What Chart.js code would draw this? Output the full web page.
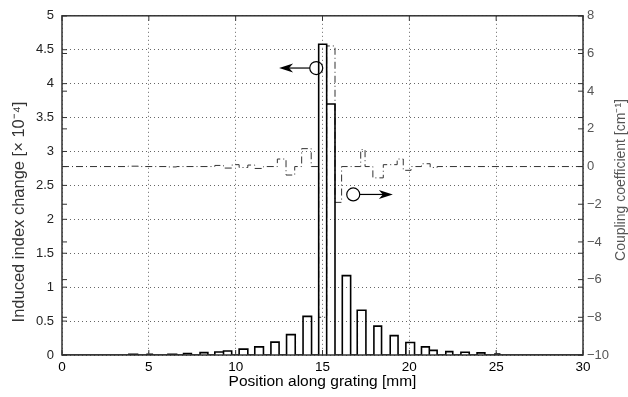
<!DOCTYPE html>
<html>
<head>
<meta charset="utf-8">
<script src="https://cdn.jsdelivr.net/npm/chart.js@4.4.0/dist/chart.umd.min.js"></script>
<style>
  html, body { margin: 0; padding: 0; background: #fff; }
</style>
</head>
<body>
<canvas id="grating" width="628" height="397"></canvas>
<script>
// grating sections: start / end position [mm] and induced index change [x 1e-4]
var barStart  = [3.85, 4.9, 6.1, 7.0, 7.95, 8.8, 9.3, 10.2, 11.1, 12.03, 12.93, 13.88, 14.78, 15.24, 16.14, 17.0, 17.96, 18.9, 19.8, 20.7, 21.15, 22.1, 22.97, 23.9, 24.93];
var barEnd    = [4.35, 5.2, 6.6, 7.45, 8.4, 9.3, 9.77, 10.7, 11.6, 12.5, 13.43, 14.37, 15.24, 15.72, 16.62, 17.5, 18.4, 19.35, 20.3, 21.15, 21.6, 22.5, 23.45, 24.35, 25.2];
var barHeight = [0.012, 0.01, 0.01, 0.02, 0.035, 0.045, 0.06, 0.087, 0.12, 0.19, 0.30, 0.57, 4.58, 3.7, 1.17, 0.66, 0.425, 0.285, 0.185, 0.12, 0.068, 0.05, 0.04, 0.032, 0.015];

// coupling coefficient [1/cm], piecewise constant from each start position
var couplingStart = [0, 3.8, 4.4, 6.1, 6.6, 8.8, 9.3, 9.8, 10.2, 10.7, 11.1, 11.6, 12.4, 12.9, 13.4, 13.8, 14.35, 14.78, 15.24, 15.72, 16.1, 17.2, 17.45, 17.9, 18.5, 19.3, 19.65, 20.1, 20.7, 21.2, 21.6];
var couplingValue = [0, 0.02, 0, -0.02, 0, 0.06, -0.08, 0.1, -0.05, 0.08, -0.1, 0, 0.4, -0.45, 0, 0.95, 0, -8.0, 6.4, -1.9, 0, 0.9, 0, -0.6, 0.1, 0.4, -0.2, 0, 0.15, -0.05, 0];

var xTicks = [0, 5, 10, 15, 20, 25, 30];
var indexTicks = [0, 0.5, 1, 1.5, 2, 2.5, 3, 3.5, 4, 4.5, 5];
var couplingTicks = [-10, -8, -6, -4, -2, 0, 2, 4, 6, 8];

var FONT = '"Liberation Sans", Arial, Helvetica, sans-serif';

// outline of the bars as one polyline
var outline = [{x: 0, y: 0}];
for (var i = 0; i < barStart.length; i++) {
	outline.push({x: barStart[i], y: 0});
	outline.push({x: barStart[i], y: barHeight[i]});
	outline.push({x: barEnd[i], y: barHeight[i]});
	outline.push({x: barEnd[i], y: 0});
}
outline.push({x: 30, y: 0});

var coupling = [];
for (var j = 0; j < couplingStart.length; j++) {
	coupling.push({x: couplingStart[j], y: couplingValue[j]});
}
coupling.push({x: 30, y: couplingValue[couplingValue.length - 1]});

function setTicks(values) {
	return function(scale) {
		scale.ticks = values.map(function(v) { return {value: v}; });
	};
}

// circle + arrow showing which axis a curve belongs to
function drawMarker(ctx, cx, cy, tipX) {
	var r = 6.5;
	var dir = tipX < cx ? -1 : 1;
	ctx.save();
	ctx.strokeStyle = '#000';
	ctx.fillStyle = '#000';
	ctx.lineWidth = 1.2;
	ctx.beginPath();
	ctx.arc(cx, cy, r, 0, Math.PI * 2);
	ctx.stroke();
	ctx.beginPath();
	ctx.moveTo(cx + dir * r, cy);
	ctx.lineTo(tipX - dir * 8, cy);
	ctx.stroke();
	ctx.beginPath();
	ctx.moveTo(tipX, cy);
	ctx.lineTo(tipX - dir * 14, cy - 4.5);
	ctx.lineTo(tipX - dir * 10, cy);
	ctx.lineTo(tipX - dir * 14, cy + 4.5);
	ctx.closePath();
	ctx.fill();
	ctx.restore();
}

var markers = {
	id: 'markers',
	afterDatasetsDraw: function(chart) {
		var sx = chart.scales.x, sy = chart.scales.y, sy2 = chart.scales.y2;
		drawMarker(chart.ctx, sx.getPixelForValue(14.64), sy.getPixelForValue(4.23), sx.getPixelForValue(12.5));
		drawMarker(chart.ctx, sx.getPixelForValue(16.77), sy2.getPixelForValue(-1.48), sx.getPixelForValue(19.05));
	}
};

function rotatedText(ctx, text, x, y, size, color) {
	ctx.save();
	ctx.translate(x, y);
	ctx.rotate(-Math.PI / 2);
	ctx.font = size + 'px ' + FONT;
	ctx.fillStyle = color;
	ctx.textAlign = 'center';
	ctx.textBaseline = 'middle';
	ctx.fillText(text, 0, 0);
	ctx.restore();
}

// box around the plot with inward ticks on every side, plus the axis titles
var frame = {
	id: 'frame',
	afterDraw: function(chart) {
		var ctx = chart.ctx, a = chart.chartArea;
		var sx = chart.scales.x, sy = chart.scales.y, sy2 = chart.scales.y2;
		var len = 5;
		ctx.save();
		ctx.strokeStyle = '#333';
		ctx.lineWidth = 1;
		ctx.beginPath();
		xTicks.forEach(function(v) {
			var px = sx.getPixelForValue(v);
			ctx.moveTo(px, a.bottom); ctx.lineTo(px, a.bottom - len);
			ctx.moveTo(px, a.top); ctx.lineTo(px, a.top + len);
		});
		indexTicks.forEach(function(v) {
			var py = sy.getPixelForValue(v);
			ctx.moveTo(a.left, py); ctx.lineTo(a.left + len, py);
			ctx.moveTo(a.right, py); ctx.lineTo(a.right - len, py);
		});
		couplingTicks.forEach(function(v) {
			var py = sy2.getPixelForValue(v);
			ctx.moveTo(a.left, py); ctx.lineTo(a.left + len, py);
			ctx.moveTo(a.right, py); ctx.lineTo(a.right - len, py);
		});
		ctx.stroke();
		ctx.lineWidth = 1.5;
		ctx.strokeRect(a.left, a.top, a.right - a.left, a.bottom - a.top);

		ctx.font = '15.5px ' + FONT;
		ctx.fillStyle = '#000';
		ctx.textAlign = 'center';
		ctx.textBaseline = 'middle';
		ctx.fillText('Position along grating [mm]', (a.left + a.right) / 2, 382);
		ctx.restore();

		rotatedText(ctx, 'Induced index change [\u00d7 10\u207b\u2074]', 19, 212, 16.5, '#333');
		rotatedText(ctx, 'Coupling coefficient [cm\u207b\u00b9]', 621, 180, 14, '#555');
	}
};

var ctx = document.getElementById('grating');

var chart = new Chart(ctx, {
	type: 'line',
	data: {
		datasets: [
			{
				label: 'index',
				data: outline,
				yAxisID: 'y',
				borderColor: '#000',
				borderWidth: 1.6,
				pointRadius: 0,
				tension: 0,
				fill: false
			},
			{
				label: 'coupling',
				data: coupling,
				yAxisID: 'y2',
				stepped: 'before',
				borderColor: '#333',
				borderWidth: 1,
				borderDash: [7, 3, 1, 3],
				pointRadius: 0,
				fill: false
			}
		]
	},
	options: {
		responsive: false,
		animation: false,
		devicePixelRatio: 1,
		layout: { padding: { top: 10, left: 0, right: 0, bottom: 0 } },
		plugins: {
			legend: { display: false },
			tooltip: { enabled: false }
		},
		scales: {
			x: {
				type: 'linear',
				min: 0,
				max: 30,
				afterBuildTicks: setTicks(xTicks),
				afterFit: function(s) { s.height = 42; },
				grid: { color: '#666', lineWidth: 1, drawTicks: false },
				border: { display: false, dash: [1, 3] },
				ticks: { padding: 4, color: '#000', maxRotation: 0, autoSkip: false, font: { family: FONT, size: 13.5 } }
			},
			y: {
				type: 'linear',
				position: 'left',
				min: 0,
				max: 5,
				afterBuildTicks: setTicks(indexTicks),
				afterFit: function(s) { s.width = 62; },
				grid: { color: '#666', lineWidth: 1, drawTicks: false },
				border: { display: false, dash: [1, 3] },
				ticks: {
					padding: 8,
					color: '#222',
					font: { family: FONT, size: 13 },
					callback: function(v) { return String(v); }
				}
			},
			y2: {
				type: 'linear',
				position: 'right',
				min: -10,
				max: 8,
				afterBuildTicks: setTicks(couplingTicks),
				afterFit: function(s) { s.width = 45; },
				grid: { drawOnChartArea: false, drawTicks: false },
				border: { display: false },
				ticks: {
					padding: 4,
					color: '#555',
					font: { family: FONT, size: 13 },
					callback: function(v) { return String(v).replace('-', '\u2212'); }
				}
			}
		}
	},
	plugins: [markers, frame]
});
</script>
</body>
</html>
